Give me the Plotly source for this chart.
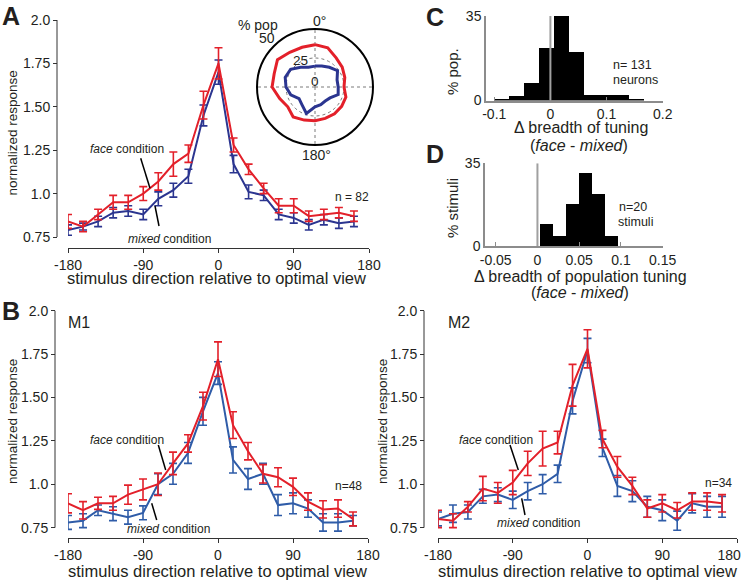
import plotly.graph_objects as go

W, H = 742, 582
def px(x): return x / W
def py(y): return 1 - y / H

FONT = "Liberation Sans, Arial, sans-serif"
RED = "#e3202a"
NAVY = "#2b3590"
BLUE = "#2f5ca8"
TXT = "#231f20"

# ---------------- data ----------------
angles = [-180, -162, -144, -126, -108, -90, -72, -54, -36, -18,
          0, 18, 36, 54, 72, 90, 108, 126, 144, 162]

a_face = [0.84, 0.81, 0.88, 0.95, 0.95, 1.00, 1.07, 1.17, 1.23, 1.51,
          1.75, 1.28, 1.14, 1.03, 0.93, 0.93, 0.87, 0.88, 0.89, 0.87]
a_face_err = [0.04, 0.03, 0.03, 0.04, 0.04, 0.04, 0.05, 0.07, 0.05, 0.08,
              0.09, 0.04, 0.03, 0.03, 0.04, 0.04, 0.03, 0.03, 0.03, 0.03]
a_mixed = [0.79, 0.81, 0.84, 0.89, 0.90, 0.88, 0.97, 1.02, 1.10, 1.45,
           1.70, 1.17, 1.01, 0.99, 0.88, 0.86, 0.82, 0.85, 0.83, 0.84]
a_mixed_err = [0.03, 0.02, 0.03, 0.03, 0.03, 0.03, 0.04, 0.04, 0.04, 0.06,
               0.07, 0.05, 0.04, 0.03, 0.03, 0.03, 0.03, 0.03, 0.03, 0.03]

m1_face = [0.89, 0.85, 0.89, 0.89, 0.94, 0.97, 1.00, 1.12, 1.235, 1.45,
           1.72, 1.34, 1.19, 1.06, 1.04, 0.985, 0.90, 0.855, 0.86, 0.80]
m1_face_err = [0.055, 0.05, 0.035, 0.04, 0.055, 0.06, 0.065, 0.065, 0.05, 0.08,
               0.10, 0.077, 0.05, 0.053, 0.055, 0.05, 0.05, 0.05, 0.05, 0.04]
m1_mixed = [0.78, 0.79, 0.85, 0.83, 0.81, 0.835, 1.00, 1.06, 1.18, 1.42,
            1.64, 1.14, 1.03, 1.06, 0.88, 0.89, 0.86, 0.78, 0.78, 0.79]
m1_mixed_err = [0.04, 0.04, 0.03, 0.04, 0.04, 0.04, 0.06, 0.06, 0.06, 0.08,
                0.065, 0.075, 0.06, 0.06, 0.06, 0.06, 0.05, 0.05, 0.05, 0.03]

m2_face = [0.80, 0.79, 0.87, 0.975, 0.95, 1.01, 1.12, 1.205, 1.24, 1.57,
           1.78, 1.26, 1.10, 0.99, 0.86, 0.89, 0.85, 0.90, 0.90, 0.89]
m2_face_err = [0.05, 0.04, 0.03, 0.07, 0.06, 0.07, 0.07, 0.10, 0.065, 0.12,
               0.11, 0.05, 0.06, 0.05, 0.05, 0.05, 0.045, 0.05, 0.05, 0.05]
m2_mixed = [0.80, 0.83, 0.84, 0.93, 0.94, 0.91, 0.96, 1.00, 1.06, 1.48,
            1.77, 1.21, 0.99, 0.96, 0.87, 0.85, 0.79, 0.89, 0.87, 0.87]
m2_mixed_err = [0.04, 0.05, 0.04, 0.04, 0.04, 0.05, 0.05, 0.055, 0.05, 0.075,
                0.07, 0.05, 0.06, 0.06, 0.06, 0.06, 0.055, 0.055, 0.06, 0.06]

polar_theta = [0, 18, 36, 54, 72, 90, 108, 126, 144, 162,
               180, 198, 216, 234, 252, 270, 288, 306, 324, 342]
polar_face = [36.5, 35.5, 31, 29, 27, 25, 28, 28.4, 28.6, 28.5,
              29, 30, 32, 29, 32, 37, 37, 40, 37, 36]
polar_mixed = [18, 19, 21, 24, 20, 20, 21, 16, 15, 16,
               17, 24, 19, 17, 22, 25, 27, 26, 21, 18]

c_centers = [-0.0867, -0.06, -0.0333, -0.0067, 0.02, 0.0467, 0.0733, 0.1, 0.1267, 0.1533]
c_pct = [0.8, 1.8, 7.4, 21.8, 35.0, 20.1, 2.4, 2.4, 2.4, 0.5]
c_width = 0.0267

d_centers = [0.011, 0.0266, 0.042, 0.0577, 0.073, 0.0887]
d_pct = [9.0, 4.3, 17.6, 30.8, 21.9, 4.3]
d_width = 0.0155

y_ticks = [0.75, 1.0, 1.25, 1.5, 1.75, 2.0]
y_ticktext = ["0.75", "1.0", "1.25", "1.50", "1.75", "2.0"]
x_ticks = [-180, -90, 0, 90, 180]
x_ticktext = ["-180", "-90", "0", "90", "180"]
# right-most panel: last label nudged left so it stays inside the page
x_ticktext_edge = ["-180", "-90", "0", "90", "180\u00a0\u00a0\u00a0\u00a0"]
c_ticks = [-0.1, 0, 0.1, 0.2]
c_ticktext = ["-0.1", "0", "0.1", "0.2"]
d_ticks = [-0.05, 0, 0.05, 0.1, 0.15]
d_ticktext = ["-0.05", "0", "0.05", "0.1", "0.15"]

# ---------------- figure ----------------
fig = go.Figure()

def add_curves(xa, ya, face, face_err, mixed, mixed_err, blue):
    fig.add_trace(go.Scatter(x=angles, y=mixed, mode="lines", xaxis=xa, yaxis=ya,
                             line=dict(color=blue, width=2),
                             error_y=dict(type="data", array=mixed_err, color=blue,
                                          thickness=1.6, width=4)))
    fig.add_trace(go.Scatter(x=angles, y=face, mode="lines", xaxis=xa, yaxis=ya,
                             line=dict(color=RED, width=2),
                             error_y=dict(type="data", array=face_err, color=RED,
                                          thickness=1.6, width=4)))

add_curves("x", "y", a_face, a_face_err, a_mixed, a_mixed_err, NAVY)
add_curves("x2", "y2", m1_face, m1_face_err, m1_mixed, m1_mixed_err, BLUE)
add_curves("x3", "y3", m2_face, m2_face_err, m2_mixed, m2_mixed_err, BLUE)

fig.add_trace(go.Bar(x=c_centers, y=c_pct, width=c_width, xaxis="x4", yaxis="y4",
                     marker=dict(color="black", line=dict(width=0))))
fig.add_trace(go.Bar(x=d_centers, y=d_pct, width=d_width, xaxis="x5", yaxis="y5",
                     marker=dict(color="black", line=dict(width=0))))

fig.add_trace(go.Scatterpolar(r=polar_face + polar_face[:1], theta=polar_theta + polar_theta[:1],
                              mode="lines", line=dict(color=RED, width=3)))
fig.add_trace(go.Scatterpolar(r=polar_mixed + polar_mixed[:1], theta=polar_theta + polar_theta[:1],
                              mode="lines", line=dict(color=NAVY, width=3)))

tickfont = dict(family=FONT, size=14, color=TXT)

def curve_x(domain_px, pos_px, tt):
    return dict(domain=[px(domain_px[0]), px(domain_px[1])], range=[-180, 180],
                anchor="free", position=py(pos_px), showline=True, linecolor="#333",
                linewidth=1, ticks="outside", ticklen=4, tickcolor="#333",
                tickvals=x_ticks, ticktext=tt, showgrid=False, zeroline=False,
                tickfont=tickfont, automargin=False, ticklabeloverflow="allow")

def curve_y(top_px, bottom_px, pos_px):
    return dict(domain=[py(bottom_px), py(top_px)], range=[0.70, 2.0],
                anchor="free", position=px(pos_px), showline=False,
                ticks="outside", ticklen=4, tickcolor="#333",
                tickvals=y_ticks, ticktext=y_ticktext, showgrid=False,
                zeroline=False, tickfont=tickfont, automargin=False)

def hist_axis(domain, rng, anchor, tv, tt=None):
    d = dict(domain=domain, range=rng, anchor=anchor,
             showline=True, linecolor="#8c8c8c", linewidth=1.5, ticks="inside",
             ticklen=4, tickcolor="#8c8c8c", tickvals=tv,
             showgrid=False, zeroline=False, tickfont=tickfont, automargin=False)
    if tt is not None:
        d["ticktext"] = tt
    return d

fig.update_layout(
    xaxis=curve_x((68, 369), 248, x_ticktext),
    yaxis=curve_y(20, 245.7, 57),
    xaxis2=curve_x((68, 368), 538, x_ticktext),
    yaxis2=curve_y(310.6, 536.3, 55),
    xaxis3=curve_x((438, 737), 538, x_ticktext_edge),
    yaxis3=curve_y(310.6, 536.3, 424),
    xaxis4=hist_axis([px(486), px(662.7)], [-0.1147, 0.2], "y4", c_ticks, c_ticktext),
    yaxis4=hist_axis([py(100.5), py(16)], [0, 35], "x4", [0, 35]),
    xaxis5=hist_axis([px(485), px(662.7)], [-0.0628, 0.15], "y5", d_ticks, d_ticktext),
    yaxis5=hist_axis([py(246), py(163.3)], [0, 35], "x5", [0, 35]),
    polar=dict(domain=dict(x=[px(257), px(373)], y=[py(145), py(29)]),
               bgcolor="white",
               radialaxis=dict(range=[0, 50], tickvals=[25], showticklabels=False,
                               ticks="", showline=False, gridcolor="#7a7a7a",
                               griddash="dot", gridwidth=1.2),
               angularaxis=dict(rotation=90, direction="clockwise",
                                tickvals=[0, 90, 180, 270], showticklabels=False,
                                ticks="", gridcolor="#7a7a7a", griddash="dot",
                                gridwidth=1.2, linecolor="black", linewidth=2)),
    width=W, height=H, margin=dict(l=0, r=0, t=0, b=0, pad=0, autoexpand=False),
    paper_bgcolor="white", plot_bgcolor="rgba(0,0,0,0)",
    showlegend=False, bargap=0,
    font=dict(family=FONT, color=TXT),
)

shapes = []
# y-axis lines spanning 0.75 - 2.0
for xp, yref in [(57, "y"), (55, "y2"), (424, "y3")]:
    shapes.append(dict(type="line", xref="paper", yref=yref, x0=px(xp), x1=px(xp),
                       y0=0.75, y1=2.0, line=dict(color="#333", width=1)))
# zero reference lines in histograms
shapes.append(dict(type="line", xref="x4", yref="y4", x0=0, x1=0, y0=0, y1=35,
                   line=dict(color="#a0a0a0", width=2)))
shapes.append(dict(type="line", xref="x5", yref="y5", x0=0, x1=0, y0=0, y1=35,
                   line=dict(color="#a0a0a0", width=2)))
# pointer lines for condition labels
pointers = [((140.7, 158.3), (150, 188.3)), ((155, 206), (159, 226)),
            ((158.3, 445), (165.7, 470)), ((151.7, 503.3), (156.7, 520)),
            ((510, 445), (518.3, 470)), ((521.7, 498.3), (525, 515))]
for (xa, ya), (xb, yb) in pointers:
    shapes.append(dict(type="line", xref="paper", yref="paper", x0=px(xa), y0=py(ya),
                       x1=px(xb), y1=py(yb), line=dict(color="black", width=1.5)))
fig.update_layout(shapes=shapes)

ann = []
def text(x, y, s, size=14, bold=False, angle=0, xanchor="center"):
    if bold:
        s = "<b>" + s + "</b>"
    ann.append(dict(x=px(x), y=py(y), xref="paper", yref="paper", text=s,
                    showarrow=False, xanchor=xanchor, yanchor="middle",
                    textangle=angle, font=dict(family=FONT, size=size, color=TXT)))

# panel letters
text(11, 16, "A", 25, bold=True)
text(11, 311, "B", 25, bold=True)
text(434.5, 16.5, "C", 25, bold=True)
text(435, 154, "D", 25, bold=True)
text(79, 322.5, "M1", 16)
text(459, 322.5, "M2", 16)

# axis titles
xt = "stimulus direction relative to optimal view"
text(216.5, 278, xt, 16.5)
text(217, 571, xt, 16.5)
text(587, 571, xt, 16.5)
yt = "normalized response"
text(12, 133.5, yt, 13.5, angle=-90)
text(12, 422, yt, 13.5, angle=-90)
text(382, 422, yt, 13.5, angle=-90)

# condition labels
for (fx, fy), (mx, my) in [((126.5, 149), (169, 238.5)),
                           ((126.5, 440), (168.5, 529.3)),
                           ((496.3, 440), (538.3, 523.3))]:
    text(fx, fy, "<i>face</i> condition", 12)
    text(mx, my, "<i>mixed</i> condition", 12)
text(352, 197, "n = 82", 12)
text(348.5, 486, "n=48", 12)
text(718.3, 483.3, "n=34", 12)

# polar labels
text(257.5, 25, "% pop", 14)
text(267, 38.3, "50", 14)
text(319.5, 20.8, "0°", 14)
text(316, 155, "180°", 14)
text(300.5, 60.5, "25", 13.5)
text(315, 81.7, "0", 13.5)

# histogram titles
text(452, 71, "% pop.", 15, angle=-90)
text(580.5, 127.5, "Δ breadth of tuning", 16)
text(579, 145.5, "(<i>face</i> - <i>mixed</i>)", 16)
text(632, 65, "n= 131", 12.5)
text(635.7, 80.5, "neurons", 12.5)

text(452, 208, "% stimuli", 15, angle=-90)
text(580, 276.5, "Δ breadth of population tuning", 16)
text(580, 292.5, "(<i>face</i> - <i>mixed</i>)", 16)
text(632.5, 206.7, "n=20", 12.5)
text(635.7, 221.7, "stimuli", 12.5)

fig.update_layout(annotations=ann)

fig.write_html("out.html", config={"displayModeBar": False},
               post_script="document.body.style.margin='0px';")
